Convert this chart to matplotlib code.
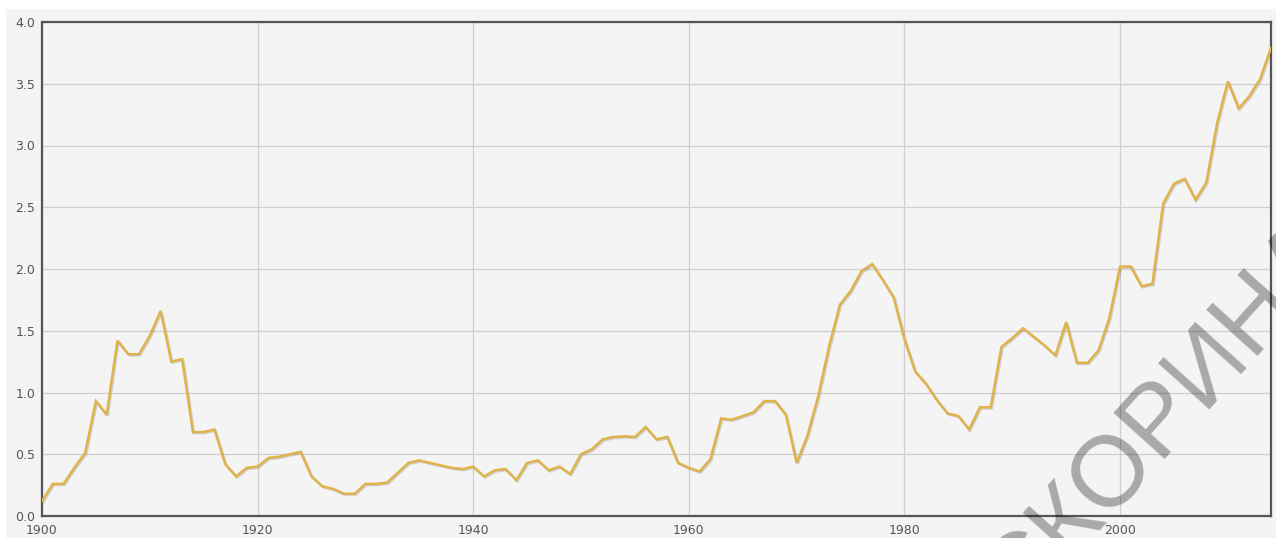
import matplotlib
matplotlib.use("Agg")
import matplotlib.pyplot as plt
import matplotlib.patheffects as pe
from matplotlib.patches import Rectangle
import numpy as np

# years 1900..2014
years = np.arange(1900, 2015)
values = [
    0.12, 0.26, 0.26, 0.39, 0.51, 0.93, 0.82, 1.42, 1.31, 1.31,   # 1900-1909
    1.46, 1.66, 1.25, 1.27, 0.68, 0.68, 0.70, 0.42, 0.32, 0.39,   # 1910-1919
    0.40, 0.47, 0.48, 0.50, 0.52, 0.32, 0.24, 0.22, 0.18, 0.18,   # 1920-1929
    0.26, 0.26, 0.27, 0.35, 0.43, 0.45, 0.43, 0.41, 0.39, 0.38,   # 1930-1939
    0.40, 0.32, 0.37, 0.38, 0.29, 0.43, 0.45, 0.37, 0.40, 0.34,   # 1940-1949
    0.50, 0.54, 0.62, 0.64, 0.645, 0.64, 0.72, 0.62, 0.64, 0.43,  # 1950-1959
    0.39, 0.36, 0.46, 0.79, 0.78, 0.81, 0.84, 0.93, 0.93, 0.82,   # 1960-1969
    0.43, 0.65, 0.97, 1.37, 1.71, 1.82, 1.98, 2.04, 1.91, 1.77,   # 1970-1979
    1.43, 1.17, 1.07, 0.94, 0.83, 0.81, 0.70, 0.88, 0.88, 1.37,   # 1980-1989
    1.44, 1.52, 1.45, 1.38, 1.30, 1.57, 1.24, 1.24, 1.34, 1.60,   # 1990-1999
    2.02, 2.02, 1.86, 1.88, 2.53, 2.69, 2.73, 2.56, 2.70, 3.18,   # 2000-2009
    3.52, 3.30, 3.40, 3.54, 3.79,                                 # 2010-2014
]
x_ticks = [1900, 1920, 1940, 1960, 1980, 2000]
y_ticks = [0.0, 0.5, 1.0, 1.5, 2.0, 2.5, 3.0, 3.5, 4.0]
watermark = "СКОРИНА"

W, H = 1276, 538
fig = plt.figure(figsize=(W / 100, H / 100), dpi=100, facecolor="white")

# light grey chart background, behind the axes
fig.patches.append(Rectangle((6 / W, 0), 1 - 6 / W, 1 - 9 / H,
                             transform=fig.transFigure, facecolor="#f4f4f4",
                             edgecolor="none", zorder=-5))

ax = fig.add_axes([42 / W, 22 / H, (1271 - 42) / W, (516 - 22) / H])
ax.set_facecolor("#f4f4f4")

ax.plot(years, values, color="#e0b24a", lw=1.8, solid_joinstyle="miter",
        path_effects=[pe.SimpleLineShadow(offset=(0.8, -0.8), alpha=0.15, shadow_color="black"),
                      pe.Normal()], zorder=3)

ax.set_xlim(1900, 2014)
ax.set_ylim(0, 4)
ax.set_xticks(x_ticks)
ax.set_yticks(y_ticks)
ax.set_yticklabels([f"{v:.1f}" for v in y_ticks])
ax.tick_params(length=0, labelsize=9, labelcolor="#555555")
ax.tick_params(axis="x", pad=6)
ax.tick_params(axis="y", pad=5)

ax.grid(True, color="#cfcfcf", lw=0.9)
ax.set_axisbelow(True)
for s in ax.spines.values():
    s.set_color("#555555")
    s.set_linewidth(1.6)

# diagonal watermark
fig.text(1020 / W, 1 - 614 / H, watermark, fontsize=72, family="Liberation Sans",
         color="black", alpha=0.31, rotation=48, rotation_mode="anchor",
         ha="left", va="baseline", zorder=10)

fig.savefig("out.png", dpi=100, facecolor="white")
